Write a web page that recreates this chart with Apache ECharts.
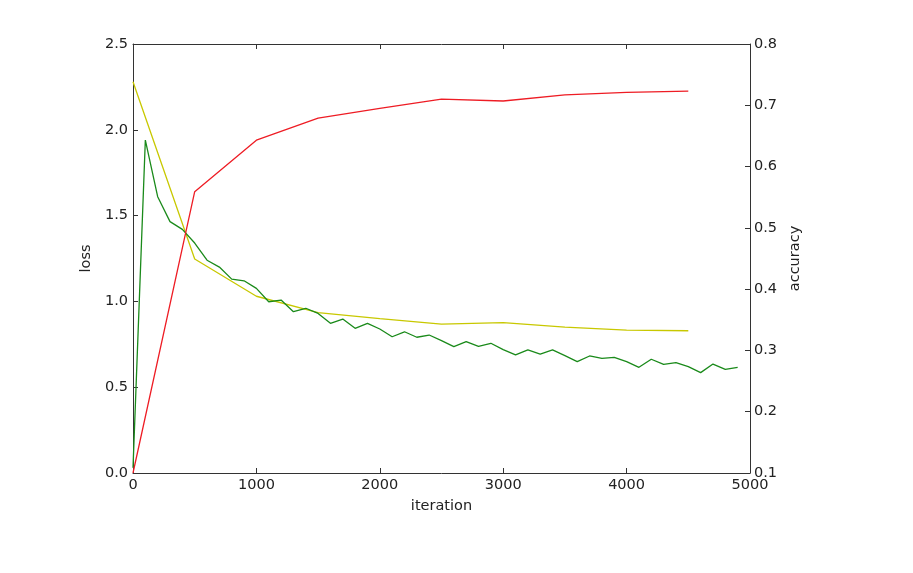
<!DOCTYPE html>
<html><head><meta charset="utf-8">
<script src="https://cdn.jsdelivr.net/npm/echarts@6/dist/echarts.min.js"></script>
<style>html,body{margin:0;padding:0;background:#fff}#c{width:913px;height:573px}</style>
</head><body><div id="c"></div>
<script>
const trainIter = [0,100,200,300,400,500,600,700,800,900,1000,1100,1200,1300,1400,1500,1600,1700,1800,1900,2000,2100,2200,2300,2400,2500,2600,2700,2800,2900,3000,3100,3200,3300,3400,3500,3600,3700,3800,3900,4000,4100,4200,4300,4400,4500,4600,4700,4800,4900];
const trainLoss = [0.03,1.94,1.61,1.465,1.42,1.34,1.24,1.20,1.13,1.12,1.076,0.998,1.008,0.94,0.96,0.93,0.872,0.897,0.843,0.872,0.839,0.794,0.823,0.791,0.804,0.771,0.736,0.765,0.738,0.756,0.719,0.688,0.717,0.693,0.717,0.684,0.649,0.682,0.668,0.674,0.649,0.616,0.663,0.633,0.643,0.62,0.585,0.635,0.604,0.616];
const testIter = [0,500,1000,1500,2000,2500,3000,3500,4000,4500];
const testLoss = [2.28,1.247,1.03,0.934,0.90,0.868,0.876,0.85,0.833,0.829];
const testAcc = [0.1,0.559,0.643,0.679,0.695,0.71,0.707,0.717,0.721,0.723];
const xTicks = [0,1000,2000,3000,4000,5000];

const pairs = (xs, ys) => xs.map((x,i)=>[x,ys[i]]);
const font = 'DejaVu Sans';
const txt = {color:'#222', fontFamily:font, fontSize:14.5};
const axLine = {show:true, onZero:false, lineStyle:{color:'#333', width:1}};
const tick = {show:true, inside:true, length:5, lineStyle:{color:'#333'}};

const chart = echarts.init(document.getElementById('c'), null, {renderer:'canvas'});
chart.setOption({
  animation:false,
  backgroundColor:'#fff',
  grid:{left:133, top:44, right:163, bottom:100, show:false},
  xAxis:[
    {type:'value', min:xTicks[0], max:xTicks[xTicks.length-1], interval:1000, position:'bottom',
     name:'iteration', nameLocation:'middle', nameGap:26, nameTextStyle:txt,
     axisLine:axLine, axisTick:tick, splitLine:{show:false},
     axisLabel:Object.assign({margin:5, formatter:v=>String(v)}, txt)},
    {type:'value', min:xTicks[0], max:xTicks[xTicks.length-1], interval:1000, position:'top',
     axisLine:axLine, axisTick:tick, splitLine:{show:false}, axisLabel:{show:false}}
  ],
  yAxis:[
    {type:'value', min:0, max:2.5, interval:0.5, position:'left',
     name:'loss', nameLocation:'middle', nameGap:37, nameRotate:90, nameTextStyle:txt,
     axisLine:axLine, axisTick:tick, splitLine:{show:false},
     axisLabel:Object.assign({margin:5, formatter:v=>v.toFixed(1)}, txt)},
    {type:'value', min:0.1, max:0.8, interval:0.1, position:'right', alignTicks:false,
     name:'accuracy', nameLocation:'middle', nameGap:31, nameRotate:90, nameTextStyle:txt,
     axisLine:axLine, axisTick:tick, splitLine:{show:false},
     axisLabel:Object.assign({margin:4, formatter:v=>v.toFixed(1)}, txt)}
  ],
  series:[
    {type:'line', xAxisIndex:0, yAxisIndex:0, data:pairs(testIter,testLoss), showSymbol:false,
     lineStyle:{color:'#c8c800', width:1.3}, itemStyle:{color:'#c8c800'}},
    {type:'line', xAxisIndex:0, yAxisIndex:0, data:pairs(trainIter,trainLoss), showSymbol:false,
     lineStyle:{color:'#1a8a1a', width:1.3}, itemStyle:{color:'#1a8a1a'}},
    {type:'line', xAxisIndex:0, yAxisIndex:1, data:pairs(testIter,testAcc), showSymbol:false,
     lineStyle:{color:'#ee1c24', width:1.3}, itemStyle:{color:'#ee1c24'}}
  ]
});
</script></body></html>
